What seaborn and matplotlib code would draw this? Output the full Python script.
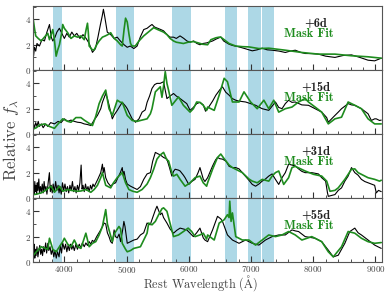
import matplotlib
matplotlib.use("Agg")
import matplotlib.pyplot as plt
from matplotlib.ticker import MultipleLocator
import seaborn as sns
import pandas as pd

# masked regions (Angstrom)
bands = [(3820, 3970), (4830, 5120), (5730, 6030), (6585, 6780), (6955, 7160), (7180, 7370)]
epochs = ["+6d", "+15d", "+31d", "+55d"]

# +6d
obs6_wl = [3505, 3520, 3540, 3560, 3600, 3640, 3680, 3720, 3761, 3790, 3814, 3850, 3880, 3920, 3960,
           4000, 4040, 4080, 4120, 4160, 4200, 4250, 4300, 4350, 4400, 4452, 4500, 4540, 4580, 4610,
           4628, 4650, 4690, 4745, 4800, 4850, 4900, 4960, 5011, 5060, 5117, 5170, 5220, 5276, 5330,
           5380, 5409, 5450, 5500, 5550, 5595, 5650, 5700, 5755, 5800, 5860, 5920, 5970, 6021, 6080,
           6130, 6180, 6230, 6290, 6383, 6440, 6515, 6560, 6648, 6700, 6808, 6900, 7021, 7100, 7180,
           7260, 7340, 7450, 7552, 7630, 7712, 7800, 7871, 7980, 8084, 8200, 8350, 8480, 8616, 8750,
           8882, 8988, 9050, 9094]
obs6_fl = [1.1, 1.8, 1.5, 2.1, 1.9, 2.4, 2.3, 3.0, 3.6, 2.6, 2.3, 2.6, 3.0, 3.3, 2.9,
           2.5, 2.9, 2.6, 3.0, 2.7, 2.9, 2.5, 2.8, 2.5, 2.1, 1.4, 1.7, 2.6, 3.6, 4.3,
           4.8, 4.2, 3.0, 2.8, 2.5, 2.6, 2.3, 2.0, 1.8, 1.9, 1.7, 1.9, 2.6, 3.2, 3.3,
           3.5, 3.6, 3.4, 3.3, 3.2, 3.1, 2.8, 2.6, 2.6, 2.5, 2.7, 2.5, 2.3, 2.2, 2.3,
           2.1, 2.0, 2.1, 2.15, 2.3, 2.45, 2.61, 2.3, 2.04, 1.95, 1.83, 1.7, 1.52, 1.6, 1.73,
           1.6, 1.57, 1.5, 1.39, 1.5, 1.57, 1.4, 1.31, 1.3, 1.26, 1.1, 1.0, 1.15, 1.2, 1.0,
           0.78, 0.73, 0.85, 0.94]
fit6_wl = [3500, 3520, 3540, 3580, 3628, 3680, 3734, 3761, 3814, 3840, 3868, 3894, 3921, 3960, 3974,
           4000, 4054, 4107, 4160, 4213, 4266, 4320, 4350, 4372, 4385, 4399, 4450, 4479, 4520, 4559,
           4612, 4660, 4700, 4745, 4800, 4851, 4904, 4931, 4960, 4984, 5011, 5040, 5064, 5090, 5140,
           5200, 5276, 5350, 5436, 5500, 5595, 5650, 5700, 5755, 5800, 5914, 5990, 6074, 6150, 6223,
           6303, 6356, 6436, 6489, 6515, 6569, 6648, 6755, 6860, 6967, 7127, 7286, 7552, 7818, 8084,
           8350, 8616, 8880, 9094]
fit6_fl = [4.0, 3.3, 2.7, 2.5, 2.3, 2.6, 2.9, 2.4, 3.2, 2.4, 1.1, 1.6, 2.0, 3.0, 3.6,
           3.3, 2.95, 2.5, 2.7, 2.6, 2.7, 2.4, 3.2, 3.7, 3.0, 1.9, 1.6, 1.6, 2.0, 2.3,
           2.6, 2.7, 2.8, 2.95, 2.5, 2.3, 2.0, 1.9, 3.2, 4.1, 3.8, 2.8, 2.1, 1.9, 1.9,
           2.3, 2.7, 3.0, 3.35, 3.2, 3.0, 2.8, 2.5, 2.3, 2.2, 2.1, 2.2, 2.25, 2.15, 2.04,
           2.0, 2.4, 2.55, 2.6, 2.6, 2.4, 2.1, 1.9, 1.85, 1.83, 1.7, 1.73, 1.57, 1.39, 1.26,
           1.26, 1.13, 1.05, 0.94]

# +15d
obs15_wl = [3505, 3520, 3540, 3560, 3580, 3600, 3630, 3660, 3700, 3734, 3780, 3841, 3900, 3947, 4000,
            4054, 4107, 4160, 4213, 4266, 4319, 4372, 4426, 4479, 4532, 4585, 4612, 4665, 4692, 4718,
            4771, 4800, 4851, 4904, 4931, 4984, 5011, 5050, 5090, 5144, 5200, 5250, 5300, 5330, 5370,
            5409, 5450, 5489, 5540, 5595, 5620, 5649, 5700, 5755, 5800, 5861, 5914, 5968, 6021, 6074,
            6127, 6180, 6233, 6270, 6303, 6383, 6436, 6500, 6542, 6595, 6648, 6700, 6755, 6808, 6914,
            6994, 7074, 7180, 7286, 7340, 7393, 7446, 7499, 7552, 7605, 7659, 7712, 7818, 7924, 8031,
            8137, 8217, 8243, 8296, 8350, 8403, 8456, 8562, 8616, 8669, 8775, 8882, 8935, 8988, 9014,
            9067, 9094]
obs15_fl = [0.8, 0.5, 0.9, 0.6, 1.0, 0.6, 0.8, 0.5, 0.8, 0.6, 0.9, 0.8, 1.0, 0.9, 1.2,
            1.0, 1.1, 1.0, 0.93, 0.9, 0.8, 0.75, 0.67, 1.1, 1.47, 2.0, 2.5, 3.2, 2.8, 2.3,
            1.2, 1.5, 1.87, 2.3, 2.5, 2.2, 2.0, 1.6, 1.2, 0.93, 1.2, 1.73, 1.9, 2.5, 3.0,
            3.6, 3.9, 4.0, 4.0, 4.13, 3.5, 2.8, 3.0, 3.2, 3.0, 2.8, 2.6, 2.4, 1.87, 2.1,
            2.4, 2.5, 2.3, 1.8, 2.0, 2.6, 3.07, 3.5, 3.73, 3.3, 3.07, 2.8, 2.67, 2.6, 2.53,
            2.4, 2.27, 2.0, 1.87, 2.2, 2.53, 2.1, 2.0, 2.4, 2.67, 2.5, 2.53, 2.3, 2.27, 2.0,
            1.73, 1.3, 0.93, 1.2, 1.47, 1.73, 2.0, 2.4, 2.3, 2.27, 2.0, 1.6, 1.07, 1.2, 1.2,
            1.07, 1.1]
fit15_wl = [3505, 3550, 3600, 3681, 3760, 3841, 3900, 3974, 4054, 4107, 4186, 4266, 4319, 4372, 4452,
            4505, 4559, 4612, 4665, 4718, 4771, 4851, 4904, 4931, 5011, 5090, 5170, 5223, 5330, 5383,
            5409, 5463, 5542, 5569, 5595, 5622, 5649, 5675, 5728, 5781, 5835, 5914, 6021, 6074, 6127,
            6180, 6233, 6287, 6303, 6409, 6489, 6569, 6622, 6702, 6808, 6888, 6994, 7100, 7207, 7286,
            7366, 7446, 7552, 7659, 7765, 7871, 7924, 8031, 8137, 8243, 8350, 8456, 8562, 8669, 8775,
            8882, 8988, 9094]
fit15_fl = [0.4, 0.5, 0.7, 0.8, 0.6, 0.45, 0.8, 1.2, 1.0, 0.93, 1.3, 1.3, 1.1, 0.93, 0.67,
            1.4, 2.4, 3.0, 3.47, 2.0, 1.47, 2.67, 2.5, 2.5, 1.47, 1.07, 1.0, 1.07, 1.2, 1.6,
            2.0, 3.33, 3.73, 2.9, 3.8, 4.93, 4.0, 3.47, 2.27, 2.6, 2.93, 2.27, 1.73, 2.0, 2.53,
            2.5, 2.27, 1.87, 2.13, 1.87, 3.07, 4.4, 4.13, 2.53, 2.53, 3.33, 2.53, 2.0, 2.67, 2.0,
            2.67, 1.73, 2.0, 2.13, 2.53, 2.8, 2.53, 2.13, 1.73, 0.8, 1.2, 1.33, 2.53, 2.27, 2.0,
            1.2, 0.8, 0.8]

# +31d
obs31_wl = [3505, 3515, 3525, 3535, 3545, 3555, 3565, 3575, 3590, 3600, 3615, 3630, 3645, 3660, 3675,
            3690, 3705, 3720, 3740, 3760, 3775, 3790, 3805, 3820, 3840, 3860, 3880, 3900, 3915, 3930,
            3950, 3970, 3990, 4010, 4030, 4050, 4070, 4090, 4110, 4130, 4150, 4170, 4190, 4210, 4230,
            4250, 4270, 4285, 4300, 4320, 4340, 4360, 4380, 4400, 4420, 4440, 4460, 4480, 4510, 4540,
            4585, 4612, 4625, 4640, 4665, 4700, 4745, 4780, 4824, 4860, 4900, 4931, 4945, 4960, 4984,
            5011, 5064, 5117, 5170, 5223, 5276, 5330, 5383, 5420, 5463, 5500, 5542, 5595, 5649, 5690,
            5728, 5755, 5781, 5835, 5861, 5914, 5941, 6000, 6047, 6101, 6150, 6180, 6210, 6233, 6260,
            6303, 6383, 6430, 6462, 6500, 6542, 6600, 6648, 6702, 6755, 6808, 6861, 6914, 6967, 7021,
            7074, 7127, 7180, 7233, 7286, 7340, 7393, 7446, 7499, 7552, 7605, 7659, 7712, 7765, 7818,
            7871, 7977, 8084, 8137, 8200, 8230, 8243, 8300, 8350, 8403, 8456, 8509, 8562, 8616, 8669,
            8722, 8775, 8829, 8882, 8935, 8988, 9014, 9050, 9094]
obs31_fl = [0.9, 0.3, 1.3, 0.5, 1.0, 0.3, 1.2, 0.6, 1.5, 0.4, 0.9, 0.5, 1.1, 0.4, 1.3,
            0.6, 0.9, 0.3, 1.2, 2.0, 0.5, 1.0, 0.4, 1.1, 0.5, 1.3, 0.6, 1.0, 0.4, 0.9,
            0.3, 1.2, 0.6, 1.1, 0.5, 0.9, 0.4, 1.0, 0.6, 1.3, 0.5, 0.9, 0.4, 1.0, 0.6,
            1.2, 2.6, 0.7, 1.0, 0.5, 1.1, 0.6, 0.9, 0.5, 1.0, 0.7, 1.1, 0.9, 1.2, 1.5,
            2.0, 2.67, 2.0, 2.4, 1.6, 1.2, 0.93, 1.1, 1.2, 1.6, 2.0, 2.4, 1.8, 2.1, 1.47,
            1.1, 0.93, 0.8, 0.67, 0.9, 1.47, 1.9, 2.0, 2.9, 3.6, 3.5, 3.4, 3.2, 3.07, 2.4,
            1.73, 2.1, 2.27, 2.2, 2.13, 1.8, 1.6, 1.07, 1.3, 1.47, 2.0, 2.4, 1.9, 1.5, 1.3,
            1.6, 2.53, 3.0, 3.2, 3.1, 3.07, 2.9, 2.5, 2.4, 2.4, 2.3, 2.0, 1.7, 1.4, 1.07,
            0.93, 1.1, 1.33, 1.5, 1.73, 1.9, 1.47, 1.07, 1.6, 2.0, 2.67, 2.6, 2.53, 2.3, 2.1,
            2.0, 2.0, 1.9, 1.6, 1.33, 0.4, 0.13, 0.2, 0.27, 0.6, 0.8, 1.33, 1.73, 2.4, 2.0,
            1.8, 1.47, 1.3, 1.2, 1.1, 1.0, 0.4, 0.6, 0.5]
fit31_wl = [3505, 3550, 3628, 3700, 3761, 3788, 3841, 3868, 3921, 3974, 4054, 4107, 4213, 4266, 4346,
            4426, 4479, 4532, 4585, 4612, 4665, 4692, 4745, 4790, 4850, 4931, 4984, 5037, 5100, 5170,
            5250, 5330, 5383, 5436, 5489, 5542, 5595, 5649, 5675, 5728, 5755, 5808, 5861, 5941, 6021,
            6101, 6180, 6233, 6287, 6303, 6383, 6462, 6515, 6569, 6648, 6702, 6861, 6967, 7021, 7100,
            7180, 7286, 7340, 7393, 7446, 7526, 7605, 7659, 7712, 7871, 8004, 8137, 8217, 8270, 8350,
            8403, 8509, 8616, 8669, 8722, 8882, 8988, 9067, 9094]
fit31_fl = [0.27, 0.3, 0.4, 0.6, 0.85, 0.93, 0.45, 0.6, 0.93, 0.53, 0.67, 0.6, 0.53, 0.55, 0.67,
            0.45, 0.67, 1.0, 1.6, 2.0, 1.0, 0.93, 0.8, 1.2, 1.6, 2.0, 1.2, 0.67, 0.53, 0.45,
            0.67, 1.1, 1.6, 2.27, 3.07, 3.4, 3.6, 3.0, 2.93, 2.0, 1.73, 1.87, 1.47, 0.93, 1.2,
            1.6, 1.73, 1.2, 0.93, 1.2, 2.27, 3.2, 3.47, 3.1, 2.6, 2.4, 2.0, 1.5, 1.33, 1.2,
            1.47, 1.33, 1.73, 2.0, 2.13, 1.07, 1.6, 2.4, 2.5, 2.13, 1.87, 1.73, 1.33, 0.53, 0.6,
            0.8, 1.47, 2.27, 2.3, 2.0, 1.6, 1.47, 1.33, 1.4]

# +55d
obs55_wl = [3505, 3515, 3525, 3535, 3545, 3560, 3575, 3590, 3605, 3620, 3635, 3650, 3665, 3680, 3700,
            3715, 3734, 3750, 3770, 3790, 3810, 3830, 3850, 3870, 3890, 3915, 3935, 3955, 3974, 4000,
            4020, 4040, 4060, 4080, 4100, 4120, 4140, 4160, 4186, 4210, 4240, 4266, 4290, 4320, 4346,
            4372, 4400, 4426, 4450, 4479, 4520, 4585, 4640, 4665, 4692, 4718, 4745, 4771, 4800, 4820,
            4851, 4880, 4904, 4940, 4957, 4975, 5011, 5064, 5117, 5170, 5223, 5276, 5330, 5380, 5420,
            5463, 5489, 5520, 5542, 5569, 5595, 5649, 5700, 5755, 5808, 5861, 5914, 5968, 6021, 6074,
            6127, 6180, 6233, 6260, 6303, 6383, 6462, 6515, 6542, 6622, 6702, 6808, 6914, 7021, 7127,
            7233, 7340, 7446, 7552, 7659, 7712, 7765, 7871, 8031, 8137, 8243, 8323, 8403, 8509, 8589,
            8669, 8722, 8775, 8882, 8988, 9040, 9094]
obs55_fl = [0.67, 1.4, 0.3, 1.0, 0.5, 1.2, 0.4, 0.9, 1.3, 0.6, 1.0, 0.5, 1.2, 0.8, 1.5,
            0.7, 1.47, 0.9, 1.2, 0.6, 1.0, 0.4, 0.9, 0.3, 0.8, 0.4, 1.3, 0.7, 1.5, 1.0,
            1.4, 0.8, 1.3, 0.9, 1.4, 1.0, 1.3, 0.9, 1.4, 1.0, 1.4, 1.1, 1.5, 1.2, 1.5,
            1.3, 1.6, 1.4, 1.7, 1.6, 2.0, 2.53, 3.07, 3.0, 2.3, 2.0, 1.6, 1.47, 2.53, 2.0,
            1.9, 2.2, 1.6, 2.6, 3.2, 2.8, 1.47, 1.6, 1.73, 1.8, 2.13, 2.3, 3.07, 2.93, 3.5,
            4.1, 4.4, 4.0, 3.73, 3.87, 3.5, 3.07, 2.6, 2.27, 2.5, 2.67, 2.6, 2.53, 2.27, 2.0,
            2.3, 2.67, 1.9, 1.73, 1.6, 2.53, 3.6, 3.4, 3.2, 2.13, 1.73, 1.47, 1.73, 1.47, 1.33,
            1.73, 2.0, 2.13, 2.13, 2.53, 2.45, 2.4, 2.0, 1.87, 1.6, 0.93, 0.4, 0.53, 1.47, 2.4,
            2.67, 2.3, 2.13, 1.73, 1.33, 1.2, 1.07]
fit55_wl = [3505, 3550, 3628, 3734, 3761, 3814, 3868, 3921, 3974, 4000, 4054, 4107, 4160, 4213, 4266,
            4346, 4399, 4452, 4505, 4559, 4612, 4665, 4692, 4718, 4771, 4800, 4878, 4904, 4931, 4984,
            5011, 5064, 5117, 5223, 5276, 5330, 5356, 5409, 5463, 5516, 5569, 5595, 5649, 5702, 5755,
            5835, 5914, 5990, 6047, 6101, 6180, 6233, 6287, 6303, 6409, 6489, 6569, 6622, 6648, 6659,
            6680, 6702, 6755, 6861, 6967, 7074, 7180, 7286, 7393, 7499, 7605, 7712, 7818, 7977, 8137,
            8243, 8323, 8456, 8562, 8669, 8775, 8882, 8988, 9094]
fit55_fl = [0.53, 0.8, 1.2, 1.0, 1.87, 1.0, 0.8, 1.2, 1.6, 1.87, 1.4, 1.2, 1.73, 1.2, 1.07,
            2.27, 1.2, 1.47, 1.6, 2.13, 2.8, 4.13, 3.0, 2.53, 1.6, 2.2, 2.8, 2.6, 1.47, 1.0,
            0.8, 0.9, 1.07, 1.2, 1.73, 2.27, 3.07, 2.93, 3.2, 3.73, 4.2, 4.27, 4.0, 3.0, 2.0,
            2.13, 2.4, 2.67, 2.4, 2.0, 2.13, 2.27, 1.8, 2.13, 1.73, 3.07, 3.33, 3.73, 3.5, 4.8,
            3.2, 3.87, 2.0, 1.73, 1.73, 1.33, 1.73, 2.13, 2.0, 2.13, 2.4, 2.13, 1.73, 2.0, 1.6,
            0.8, 0.4, 1.2, 2.4, 2.27, 1.87, 1.6, 1.47, 1.53]

obs = [(obs6_wl, obs6_fl), (obs15_wl, obs15_fl), (obs31_wl, obs31_fl), (obs55_wl, obs55_fl)]
fits = [(fit6_wl, fit6_fl), (fit15_wl, fit15_fl), (fit31_wl, fit31_fl), (fit55_wl, fit55_fl)]

sns.set_theme(style="ticks")
plt.rcParams["font.family"] = ["cmr10", "DejaVu Serif"]
plt.rcParams["mathtext.fontset"] = "cm"
plt.rcParams["axes.formatter.use_mathtext"] = True

green = "#1e8c1e"
fig, axes = plt.subplots(4, 1, figsize=(3.91, 2.92), dpi=100, sharex=True)
fig.subplots_adjust(left=0.085, right=0.976, top=0.979, bottom=0.103, hspace=0)

for ax, label, (ow, of), (fw, ff) in zip(axes, epochs, obs, fits):
    for lo, hi in bands:
        ax.axvspan(lo, hi, color="lightblue", lw=0, zorder=0)
    sns.lineplot(x=ow, y=of, ax=ax, color="black", lw=0.8, sort=False, estimator=None)
    sns.lineplot(x=fw, y=ff, ax=ax, color=green, lw=1.2, sort=False, estimator=None)
    ax.set_xlim(3500, 9100)
    ax.set_ylim(0, 5.05)
    ax.set_yticks([0, 2, 4])
    ax.yaxis.set_minor_locator(MultipleLocator(1))
    ax.xaxis.set_major_locator(MultipleLocator(1000))
    ax.xaxis.set_minor_locator(MultipleLocator(200))
    ax.tick_params(which="major", direction="in", length=4, width=0.8, color="#333333",
                   labelsize=6.5, labelcolor="#444444", pad=1.5)
    ax.tick_params(which="minor", direction="in", length=2.5, width=0.6, color="#333333")
    ax.set_ylabel("")
    for s in ax.spines.values():
        s.set_color("#555555")
        s.set_linewidth(0.8)
    ax.text(0.81, 0.73, label, transform=ax.transAxes, ha="center", va="center",
            fontsize=9, family=["cmb10", "DejaVu Serif"], color="#222222")
    ax.text(0.79, 0.56, "Mask Fit", transform=ax.transAxes, ha="center", va="center",
            fontsize=9, family=["cmb10", "DejaVu Serif"], color=green)

axes[-1].set_xlabel(r"Rest Wavelength ($\mathrm{\AA}$)", fontsize=8.8, color="#444444")
axes[-1].xaxis.set_label_coords(0.48, -0.18)
fig.text(0.03, 0.52, r"Relative $f_\lambda$", rotation=90, ha="center", va="center",
         fontsize=12, color="#444444")

plt.savefig("out.png", dpi=100)
